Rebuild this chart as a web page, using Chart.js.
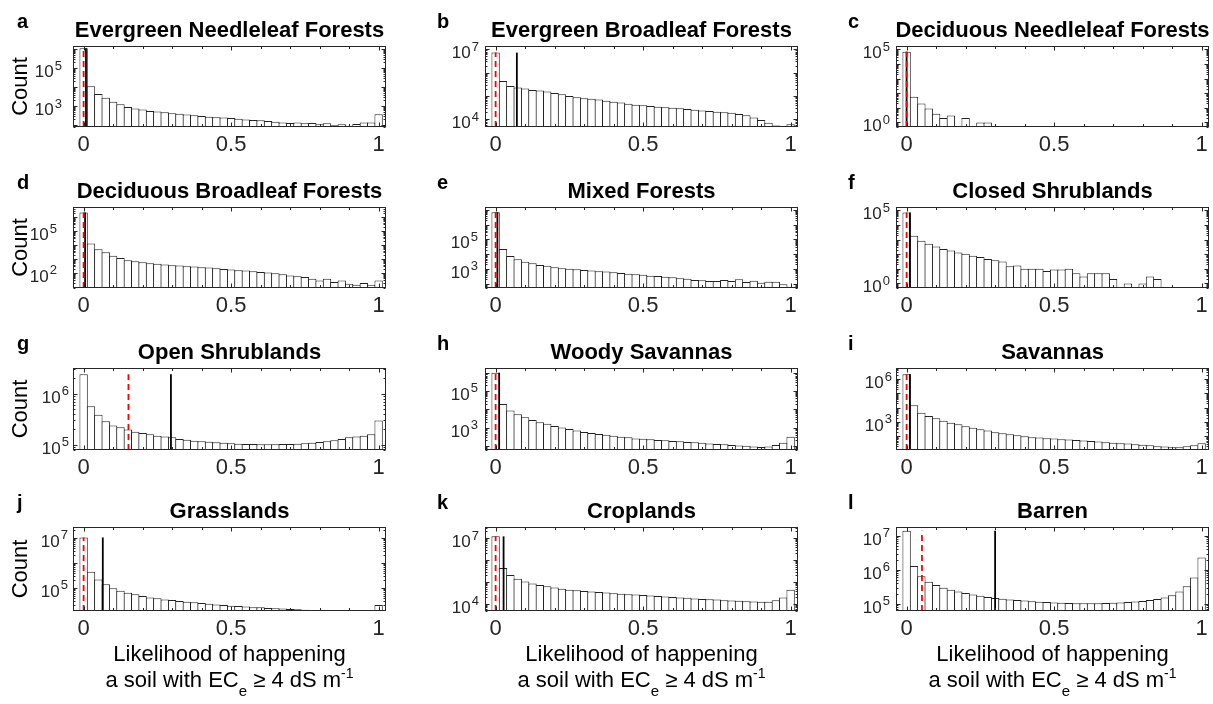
<!DOCTYPE html>
<html>
<head>
<meta charset="utf-8">
<script src="https://cdn.jsdelivr.net/npm/chart.js@4.4.1/dist/chart.umd.min.js"></script>
<style>
  body { margin: 0; background: #fff; width: 1213px; height: 704px; overflow: hidden; position: relative;
         font-family: "Liberation Sans", Arial, sans-serif; }
  canvas { position: absolute; }
  .xt { position: absolute; width: 420px; text-align: center; font-size: 22px; line-height: 26px;
        color: #000; white-space: nowrap; }
  .xt sub { font-size: 15px; vertical-align: baseline; position: relative; top: 9px; }
  .xt sup { font-size: 14px; vertical-align: baseline; position: relative; top: -9px; }
</style>
</head>
<body>
<script>
// histogram bins (centre of each 0.025 wide bin)
const binCenters = [0, 0.025, 0.05, 0.075, 0.1, 0.125, 0.15, 0.175, 0.2, 0.225,
  0.25, 0.275, 0.3, 0.325, 0.35, 0.375, 0.4, 0.425, 0.45, 0.475,
  0.5, 0.525, 0.55, 0.575, 0.6, 0.625, 0.65, 0.675, 0.7, 0.725,
  0.75, 0.775, 0.8, 0.825, 0.85, 0.875, 0.9, 0.925, 0.95, 0.975, 1];

const xTicks = [0, 0.1, 0.2, 0.3, 0.4, 0.5, 0.6, 0.7, 0.8, 0.9, 1];
const xLabelTicks = [0, 0.5, 1];
const xLabels = ['0', '0.5', '1'];

const panelLetters = ['a', 'b', 'c', 'd', 'e', 'f', 'g', 'h', 'i', 'j', 'k', 'l'];
const panelTitles = ['Evergreen Needleleaf Forests', 'Evergreen Broadleaf Forests', 'Deciduous Needleleaf Forests',
  'Deciduous Broadleaf Forests', 'Mixed Forests', 'Closed Shrublands',
  'Open Shrublands', 'Woody Savannas', 'Savannas',
  'Grasslands', 'Croplands', 'Barren'];

// counts per bin
const countsA = [1.1e6, 1.1e4, 4300, 2800, 1700, 1260, 910, 760, 660, 560,
  520, 480, 420, 400, 360, 330, 300, 280, 260, 250,
  235, 215, 200, 185, 180, 165, 150, 140, 130, 140,
  125, 130, 112, 125, 100, 112, 92, 115, 140, 140, 370];
const countsB = [7.2e6, 4.4e5, 2.7e5, 2.3e5, 2.1e5, 1.8e5, 1.7e5, 1.55e5, 1.35e5, 1.2e5,
  1.0e5, 8.8e4, 8.0e4, 7.7e4, 7.0e4, 6.3e4, 5.7e4, 5.2e4, 4.7e4, 4.2e4,
  4.0e4, 3.7e4, 3.5e4, 3.3e4, 3.1e4, 2.95e4, 2.8e4, 2.6e4, 2.4e4, 2.3e4,
  2.1e4, 2.0e4, 1.9e4, 1.7e4, 1.5e4, 1.2e4, 9400, 7200, 5500, 4900, 6200];
const countsC = [6.9e4, 58, 20, 9, 4, 2, 3, null, 2, null,
  1, 1, null, null, null, null, null, null, null, null,
  null, null, null, null, null, null, null, null, null, null,
  null, null, null, null, null, null, null, null, null, null, null];
const countsD = [2.2e6, 1.3e4, 5000, 3000, 1700, 1200, 820, 690, 590, 500,
  450, 400, 355, 340, 300, 290, 260, 245, 220, 195,
  175, 155, 148, 130, 118, 107, 95, 81, 65, 59,
  51, 39, 29, 39, 22, 29, 17, 14, 19, 14, 29];
const countsE = [7e6, 2.2e4, 7600, 4500, 3100, 2400, 1850, 1600, 1300, 1100,
  1000, 930, 850, 760, 690, 650, 590, 525, 470, 425,
  390, 345, 330, 295, 270, 230, 215, 175, 165, 150,
  150, 175, 150, 195, 128, 158, 115, 135, 135, 89, 62];
const countsF = [7.2e4, 1850, 840, 520, 340, 230, 180, 132, 108, 79,
  65, 47, 38, 32, 15, 17, 10, 10, 10, 7,
  9, 9, 10, 5, 3, 5, 5, 5, 2, null,
  1, null, 1, 3, 2, null, null, null, null, null, null];
const countsG = [2.4e6, 5.7e5, 3.9e5, 2.9e5, 2.4e5, 2.2e5, 2.0e5, 1.8e5, 1.7e5, 1.6e5,
  1.5e5, 1.45e5, 1.4e5, 1.3e5, 1.26e5, 1.2e5, 1.17e5, 1.15e5, 1.12e5, 1.1e5,
  1.07e5, 1.05e5, 1.04e5, 1.03e5, 1.02e5, 1.02e5, 1.02e5, 1.03e5, 1.04e5, 1.05e5,
  1.07e5, 1.1e5, 1.13e5, 1.17e5, 1.22e5, 1.3e5, 1.4e5, 1.45e5, 1.5e5, 1.6e5, 3.0e5];
const countsH = [1e6, 1.95e4, 8400, 5300, 3700, 2600, 1950, 1600, 1200, 1000,
  830, 690, 575, 500, 445, 400, 350, 310, 290, 250,
  240, 225, 210, 200, 185, 175, 163, 155, 145, 135,
  126, 120, 112, 105, 100, 93, 87, 93, 112, 145, 310];
const countsI = [2.2e6, 1.5e4, 4400, 2600, 1800, 1200, 880, 680, 510, 390,
  316, 250, 195, 166, 141, 120, 102, 87, 81, 74,
  69, 63, 59, 54, 50, 46, 43, 39, 36, 33,
  31, 28, 26, 24, 20, 19, 17, 17, 20, 24, 33];
const countsJ = [1.05e7, 4.5e5, 2.2e5, 1.4e5, 9.7e4, 7.8e4, 6.5e4, 5.6e4, 4.8e4, 4.2e4,
  3.9e4, 3.5e4, 3.3e4, 3.0e4, 2.8e4, 2.7e4, 2.5e4, 2.35e4, 2.2e4, 2.1e4,
  1.95e4, 1.9e4, 1.8e4, 1.7e4, 1.7e4, 1.6e4, 1.55e4, 1.5e4, 1.45e4, 1.4e4,
  1.35e4, 1.33e4, 1.32e4, 1.3e4, 1.3e4, 1.3e4, 1.28e4, 1.28e4, 1.3e4, 1.25e4, 2.1e4];
const countsK = [1.2e7, 4.4e5, 2.1e5, 1.4e5, 1.05e5, 8.5e4, 7.3e4, 6.4e4, 5.7e4, 5.0e4,
  4.5e4, 4.2e4, 3.9e4, 3.7e4, 3.5e4, 3.3e4, 3.1e4, 2.95e4, 2.8e4, 2.7e4,
  2.6e4, 2.45e4, 2.3e4, 2.2e4, 2.1e4, 2.0e4, 1.9e4, 1.8e4, 1.7e4, 1.65e4,
  1.6e4, 1.5e4, 1.45e4, 1.4e4, 1.35e4, 1.3e4, 1.25e4, 1.25e4, 1.5e4, 2.0e4, 4.5e4];
const countsL = [1.4e7, 1.3e6, 6.5e5, 4.5e5, 3.6e5, 3.0e5, 2.6e5, 2.3e5, 2.1e5, 1.9e5,
  1.75e5, 1.6e5, 1.5e5, 1.42e5, 1.35e5, 1.3e5, 1.25e5, 1.2e5, 1.16e5, 1.13e5,
  1.1e5, 1.08e5, 1.06e5, 1.05e5, 1.04e5, 1.04e5, 1.05e5, 1.06e5, 1.08e5, 1.1e5,
  1.13e5, 1.17e5, 1.22e5, 1.3e5, 1.4e5, 1.55e5, 1.8e5, 2.3e5, 3.3e5, 6e5, 2.3e6];
const panelCounts = [countsA, countsB, countsC, countsD, countsE, countsF,
  countsG, countsH, countsI, countsJ, countsK, countsL];

// red dashed and black vertical markers (likelihood value)
const redLine = [0, 0, 0, 0, 0, 0, 0.152, 0, 0, 0, 0, 0.052];
const blackLine = [0.008, 0.072, 0, 0.005, 0.006, 0.011, 0.296, 0.012, 0.011, 0.065, 0.027, 0.3];

// log y axis limits and labelled decades
const yLimits = [[80, 1.45e6], [4.7e3, 1.38e7], [0.49, 1.7e5],
  [8.3, 5.4e6], [50, 1.6e7], [0.49, 1.7e5],
  [7.9e4, 3.2e6], [59, 1.8e6], [11, 5.9e6],
  [1.2e4, 2.75e7], [4.8e3, 3.2e7], [6.2e4, 1.8e7]];
const yTickExps = [[3, 5], [4, 7], [0, 5], [2, 5], [3, 5], [0, 5],
  [5, 6], [3, 5], [3, 6], [5, 7], [4, 7], [5, 6, 7]];

// layout
const colLeft = [73, 485, 896];
const plotW = 313;
const rowTop = [46, 207, 368, 527];
const rowH = [81, 81, 82, 84];
const letterOffset = [-56, -48, -48];
const yLabelGap = [11, 6, 6, 16, 7, 6, 4, 7, 4, 5, 6, 6];
const pad = { left: 70, top: 42, right: 12, bottom: 34 };
const FONT = '"Liberation Sans", Arial, sans-serif';

// MATLAB-like axes box, inward ticks, labels, title and panel letter
const panelFrame = {
  id: 'panelFrame',
  afterDraw(chart, args, o) {
    const { ctx, chartArea: a, scales: { x, y } } = chart;
    ctx.save();
    const L = Math.round(a.left) + 0.5, R = Math.round(a.right) - 0.5;
    const T = Math.round(a.top) + 0.5, B = Math.round(a.bottom) - 0.5;
    ctx.strokeStyle = '#262626';
    ctx.lineWidth = 1;
    ctx.strokeRect(L, T, R - L, B - T);

    ctx.beginPath();
    xTicks.forEach(v => {
      const px = Math.round(x.getPixelForValue(v)) + 0.5;
      const len = xLabelTicks.includes(v) ? 4 : 2.5;
      ctx.moveTo(px, B); ctx.lineTo(px, B - len);
      ctx.moveTo(px, T); ctx.lineTo(px, T + len);
    });
    const e0 = Math.floor(Math.log10(y.min)), e1 = Math.ceil(Math.log10(y.max));
    for (let e = e0; e <= e1; e++) {
      for (let m = 1; m <= 9; m++) {
        const v = m * Math.pow(10, e);
        if (v < y.min || v > y.max) continue;
        const py = Math.round(y.getPixelForValue(v)) + 0.5;
        const len = m === 1 ? 4 : 2;
        ctx.moveTo(L, py); ctx.lineTo(L + len, py);
        ctx.moveTo(R, py); ctx.lineTo(R - len, py);
      }
    }
    ctx.stroke();

    // x tick labels
    ctx.fillStyle = '#262626';
    ctx.font = '22px ' + FONT;
    ctx.textAlign = 'center';
    ctx.textBaseline = 'alphabetic';
    xLabelTicks.forEach((v, k) => ctx.fillText(xLabels[k], x.getPixelForValue(v), a.bottom + 24));

    // y tick labels 10^n
    const xr = a.left - o.gap;
    o.exps.forEach(n => {
      const py = y.getPixelForValue(Math.pow(10, n));
      ctx.font = '13px ' + FONT;
      const ew = ctx.measureText(String(n)).width;
      ctx.textAlign = 'left';
      ctx.fillText(String(n), xr - ew, py + 1.5);
      ctx.font = '17px ' + FONT;
      ctx.textAlign = 'right';
      ctx.fillText('10', xr - ew - 1, py + 9);
    });

    // title and letter
    ctx.fillStyle = '#000';
    ctx.font = 'bold 22px ' + FONT;
    ctx.textAlign = 'center';
    ctx.fillText(o.title, (a.left + a.right) / 2, a.top - 9);
    ctx.font = 'bold 20px ' + FONT;
    ctx.textAlign = 'left';
    ctx.fillText(o.letter, a.left + o.letterDx, a.top - 18);

    if (o.count) {
      ctx.translate(a.left - 52.5, (a.top + a.bottom) / 2);
      ctx.rotate(-Math.PI / 2);
      ctx.font = '22px ' + FONT;
      ctx.fillStyle = '#000';
      ctx.textAlign = 'center';
      ctx.textBaseline = 'middle';
      ctx.fillText('Count', 0, 0);
    }
    ctx.restore();
  }
};

panelCounts.forEach((counts, i) => {
  const col = i % 3, row = Math.floor(i / 3);
  const h = rowH[row];
  const cv = document.createElement('canvas');
  cv.width = plotW + pad.left + pad.right;
  cv.height = h + pad.top + pad.bottom;
  cv.style.left = (colLeft[col] - pad.left) + 'px';
  cv.style.top = (rowTop[row] - pad.top) + 'px';
  document.body.appendChild(cv);

  const [yLo, yHi] = yLimits[i];
  const peak = Math.max(...counts.filter(v => v !== null));

  new Chart(cv, {
    type: 'bar',
    data: {
      datasets: [
        {
          type: 'bar',
          data: binCenters.map((c, k) => ({ x: c, y: counts[k] })),
          backgroundColor: '#ffffff',
          borderColor: '#222222',
          borderWidth: 1,
          barPercentage: 1,
          categoryPercentage: 1.135,
          inflateAmount: 0,
          order: 3
        },
        {
          type: 'line',
          data: [{ x: blackLine[i], y: yLo }, { x: blackLine[i], y: peak }],
          borderColor: '#000000',
          borderWidth: 1.8,
          pointRadius: 0,
          order: 2
        },
        {
          type: 'line',
          data: [{ x: redLine[i], y: yLo }, { x: redLine[i], y: peak }],
          borderColor: '#ff0000',
          borderWidth: 1.8,
          borderDash: [6, 4],
          pointRadius: 0,
          order: 1
        }
      ]
    },
    options: {
      responsive: false,
      animation: false,
      devicePixelRatio: 1,
      layout: { padding: pad },
      plugins: {
        legend: { display: false },
        tooltip: { enabled: false },
        panelFrame: {
          title: panelTitles[i],
          letter: panelLetters[i],
          letterDx: letterOffset[col],
          exps: yTickExps[i],
          gap: yLabelGap[i],
          count: col === 0
        }
      },
      scales: {
        x: { type: 'linear', min: -0.036, max: 1.025, offset: false, display: false },
        y: { type: 'logarithmic', min: yLo, max: yHi, display: false }
      }
    },
    plugins: [panelFrame]
  });
});

// shared x-axis titles under the bottom row
colLeft.forEach(left => {
  const cx = left + plotW / 2;
  const l1 = document.createElement('div');
  l1.className = 'xt';
  l1.style.left = (cx - 210) + 'px';
  l1.style.top = '641px';
  l1.textContent = 'Likelihood of happening';
  document.body.appendChild(l1);
  const l2 = document.createElement('div');
  l2.className = 'xt';
  l2.style.left = (cx - 210) + 'px';
  l2.style.top = '667px';
  l2.innerHTML = 'a soil with EC<sub>e</sub> \u2265 4 dS m<sup>-1</sup>';
  document.body.appendChild(l2);
});
</script>
</body>
</html>
